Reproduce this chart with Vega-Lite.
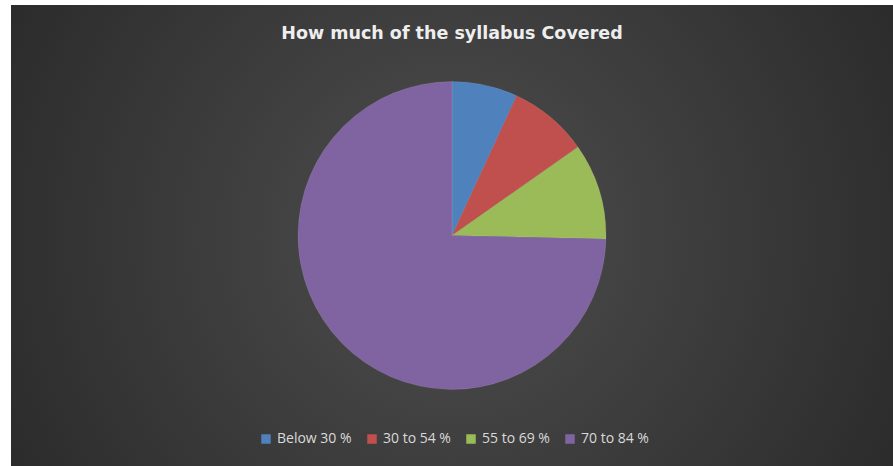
{
  "$schema": "https://vega.github.io/schema/vega-lite/v6.json",
  "width": 893,
  "height": 466,
  "autosize": {"type": "fit", "contains": "padding"},
  "padding": {"left": 11, "top": 5, "right": 0, "bottom": 0},
  "background": "#ffffff",
  "config": {"view": {"stroke": null, "fill": "#2c2c2c"}},
  "title": {
    "text": "How much of the syllabus Covered",
    "color": "#eeeeee",
    "font": "DejaVu Sans",
    "fontSize": 17.5,
    "fontWeight": "bold",
    "anchor": "middle",
    "offset": -37
  },
  "data": {
    "values": [
      {"range": "Below 30 %", "share": 6.9, "order": 1},
      {"range": "30 to 54 %", "share": 8.35, "order": 2},
      {"range": "55 to 69 %", "share": 10.1, "order": 3},
      {"range": "70 to 84 %", "share": 74.65, "order": 4}
    ]
  },
  "layer": [
    {
      "data": {"values": [{"bg": 1}]},
      "mark": {
        "type": "rect",
        "fill": {
          "gradient": "radial",
          "x1": 0.5, "y1": 0.5, "r1": 0,
          "x2": 0.5, "y2": 0.5, "r2": 0.75,
          "stops": [
            {"offset": 0, "color": "#4e4e4e"},
            {"offset": 1, "color": "#202020"}
          ]
        }
      },
      "encoding": {}
    },
    {
      "mark": {"type": "arc", "outerRadius": 154, "stroke": "#ffffff", "strokeOpacity": 0.15, "strokeWidth": 0.6},
      "encoding": {
        "theta": {"field": "share", "type": "quantitative", "stack": true},
        "order": {"field": "order", "type": "quantitative"},
        "color": {
          "field": "range",
          "type": "nominal",
          "scale": {
            "domain": ["Below 30 %", "30 to 54 %", "55 to 69 %", "70 to 84 %"],
            "range": ["#4f81bd", "#c0504d", "#9bbb59", "#8064a2"]
          },
          "legend": {
            "orient": "none",
            "legendX": 248,
            "legendY": 427,
            "direction": "horizontal",
            "title": null,
            "symbolType": "square",
            "symbolSize": 90,
            "symbolStrokeWidth": 0,
            "labelColor": "#d9d9d9",
            "labelFont": "Open Sans",
            "labelFontSize": 14,
            "columnPadding": 13,
            "symbolOffset": 0
          }
        }
      }
    }
  ]
}
